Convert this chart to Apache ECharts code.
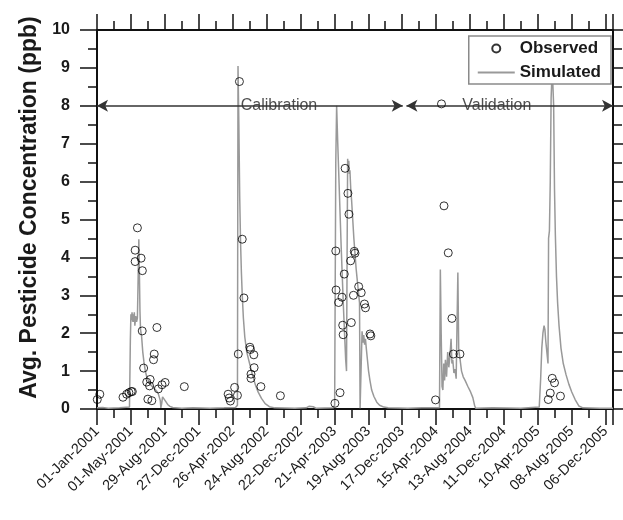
<!DOCTYPE html>
<html>
<head>
<meta charset="utf-8">
<script src="https://cdn.jsdelivr.net/npm/echarts@6/dist/echarts.min.js"></script>
<style>
html,body{margin:0;padding:0;background:#fff;}
#chart{width:623px;height:520px;}
</style>
</head>
<body>
<div id="chart"></div>
<script>
// x values are days counted from 01-Jan-2001
var MONTHS = ['Jan','Feb','Mar','Apr','May','Jun','Jul','Aug','Sep','Oct','Nov','Dec'];
var xMin = 0, xMax = 1826, xStep = 120;
var yMin = 0, yMax = 10, yStep = 1;

var obsDays = [1, 10, 92, 105, 113, 121, 125, 135, 135, 143, 156, 160, 160.5, 165, 176, 180, 186, 188, 194, 200, 202.5, 212, 217, 230, 241, 309,
	464, 468, 472, 487, 497, 500, 504, 514, 520, 541, 543, 545, 545, 555, 556, 580, 649,
	842, 845, 846, 855, 860, 867, 869.5, 871, 875, 878, 888, 891.5, 897.5, 900, 907.5, 910.5, 913, 926, 935, 946.5, 950, 966, 969,
	1198, 1219, 1228, 1243, 1256, 1261, 1284.5,
	1597, 1604, 1611, 1619, 1640];
var obsValues = [0.25, 0.39, 0.31, 0.39, 0.43, 0.46, 0.46, 4.19, 3.89, 4.78, 3.98, 2.06, 3.65, 1.08, 0.71, 0.26, 0.61, 0.78, 0.22, 1.30, 1.45, 2.15, 0.53, 0.64, 0.70, 0.59,
	0.39, 0.29, 0.21, 0.57, 0.36, 1.45, 8.64, 4.48, 2.93, 1.63, 1.57, 0.92, 0.81, 1.43, 1.09, 0.59, 0.35,
	0.15, 4.17, 3.14, 2.81, 0.43, 2.95, 2.21, 1.96, 3.56, 6.35, 5.69, 5.14, 3.91, 2.28, 3.00, 4.16, 4.11, 3.23, 3.07, 2.77, 2.67, 1.98, 1.93,
	0.24, 8.05, 5.36, 4.12, 2.39, 1.45, 1.45,
	0.25, 0.42, 0.81, 0.69, 0.34];

var simDays = [0, 20, 40, 80, 115, 118, 120, 122, 124, 126, 128, 130, 132, 134, 137, 140, 143, 145, 148, 150, 152, 154, 158, 162, 166, 171, 176, 182, 188, 194, 202, 210, 216, 221, 224, 226, 229, 232, 237, 243, 250, 258, 268, 300, 340, 400, 450,
	490, 497, 499, 502, 505, 508, 511, 514, 518, 523, 530, 540, 550, 560, 570, 582, 595, 610, 630, 700, 740, 750, 765, 775,
	836, 841, 845, 848, 852, 856, 860, 864, 868, 872, 876, 880, 883, 885, 887, 889, 891, 893, 895, 898, 901, 905, 909, 913, 917, 921, 925, 929, 931, 936, 938, 941, 944, 947, 950, 953, 957, 961, 966, 972, 980, 990, 1000, 1015, 1030, 1100, 1150,
	1212, 1215, 1218, 1221, 1224, 1227, 1230, 1233, 1237, 1241, 1245, 1249, 1253, 1256, 1259, 1263, 1267, 1271, 1275, 1277, 1280, 1285, 1290, 1296, 1303, 1312, 1322, 1330, 1336, 1340, 1400, 1500,
	1565, 1570, 1574, 1578, 1582, 1585, 1588, 1592, 1596, 1598, 1601, 1604, 1607, 1610, 1613, 1616, 1619, 1622, 1626, 1630, 1635, 1642, 1650, 1660, 1670, 1680, 1692, 1705, 1720, 1780, 1826];
var simValues = [0.03, 0.04, 0.02, 0.03, 0.05, 1.8, 2.5, 2.35, 2.55, 2.3, 2.5, 2.3, 2.55, 2.2, 2.45, 2.3, 2.4, 3.2, 4.48, 3.6, 2.6, 2.1, 1.9, 1.5, 1.25, 1.0, 0.85, 0.75, 0.65, 0.6, 0.55, 0.48, 0.42, 0.3, 0.22, 0.03, 0.15, 0.32, 0.28, 0.2, 0.12, 0.07, 0.04, 0.02, 0.03, 0.02, 0.03,
	0.04, 0.1, 9.05, 7.5, 5.6, 4.4, 3.6, 3.0, 2.4, 1.9, 1.5, 1.2, 0.9, 0.65, 0.45, 0.28, 0.14, 0.06, 0.03, 0.02, 0.03, 0.07, 0.06, 0.02,
	0.03, 0.1, 6.5, 8.0, 7.0, 6.1, 5.2, 4.3, 3.5, 2.7, 2.0, 1.3, 1.0, 4.0, 6.6, 6.3, 6.55, 6.2, 6.3, 5.8, 5.5, 5.0, 4.5, 4.1, 3.7, 3.4, 3.1, 2.8, 0.02, 0.02, 2.05, 1.75, 1.95, 1.7, 1.85, 1.6, 1.3, 1.0, 0.75, 0.5, 0.33, 0.18, 0.1, 0.05, 0.03, 0.02, 0.03,
	0.03, 3.68, 2.0, 0.6, 0.5, 1.2, 0.75, 1.3, 0.85, 1.5, 1.1, 1.4, 1.85, 1.2, 1.3, 0.95, 1.05, 0.8, 0.8, 3.6, 1.55, 1.3, 1.0, 0.85, 0.75, 0.6, 0.45, 0.3, 0.1, 0.02, 0.03, 0.02,
	0.05, 0.8, 1.6, 2.0, 2.2, 2.1, 1.8, 1.5, 1.2, 4.5, 4.7, 6.0, 8.2, 8.8, 8.6, 8.0, 5.8, 4.6, 3.5, 2.8, 2.2, 1.6, 1.2, 0.9, 0.65, 0.45, 0.25, 0.08, 0.03, 0.02, 0.02];

// calibration / validation periods drawn at y = 8
var periodNames = ['Calibration', 'Validation'];
var periodStart = [0, 1095];
var periodEnd = [1082, 1826];
var periodTextDay = [644, 1415];
var periodLevel = 8;

function dayLabel(d)
{
	var t = new Date(Date.UTC(2001, 0, 1) + d * 86400000);
	var dd = ('0' + t.getUTCDate()).slice(-2);
	return dd + '-' + MONTHS[t.getUTCMonth()] + '-' + t.getUTCFullYear();
}

var obsData = [];
for (var i = 0; i < obsDays.length; i++) obsData.push([obsDays[i], obsValues[i]]);
var simData = [];
for (var j = 0; j < simDays.length; j++) simData.push([simDays[j], simValues[j]]);
var periodLines = [];
var periodText = [];
for (var k = 0; k < periodNames.length; k++) {
	periodLines.push([{ coord: [periodStart[k], periodLevel] }, { coord: [periodEnd[k], periodLevel] }]);
	periodText.push({ value: [periodTextDay[k], periodLevel], name: periodNames[k] });
}

var FONT = 'Liberation Sans, Arial, sans-serif';
var AX = '#111';

function xAx(pos)
{
	return {
		type: 'value', position: pos, min: xMin, max: xMax, interval: xStep,
		axisLine: { show: true, onZero: false, lineStyle: { color: AX, width: 2 } },
		axisTick: { show: true, inside: false, length: 16, lineStyle: { color: AX, width: 1.5 } },
		minorTick: { show: true, splitNumber: 2, length: 9, lineStyle: { color: AX, width: 1.5 } },
		splitLine: { show: false },
		minorSplitLine: { show: false },
		axisLabel: {
			show: pos === 'bottom', rotate: 45, margin: 20, fontSize: 14.5, color: '#1a1a1a',
			fontFamily: FONT, showMaxLabel: false, formatter: dayLabel
		}
	};
}

function yAx(pos)
{
	var a = {
		type: 'value', position: pos, min: yMin, max: yMax, interval: yStep,
		axisLine: { show: true, onZero: false, lineStyle: { color: AX, width: 2 } },
		axisTick: { show: true, inside: false, length: 17, lineStyle: { color: AX, width: 1.5 } },
		minorTick: { show: true, splitNumber: 2, length: 9, lineStyle: { color: AX, width: 1.5 } },
		splitLine: { show: false },
		minorSplitLine: { show: false },
		axisLabel: {
			show: pos === 'left', margin: 27, fontSize: 16, fontWeight: 'bold',
			color: '#1a1a1a', fontFamily: FONT
		}
	};
	if (pos === 'left') {
		a.name = 'Avg. Pesticide Concentration (ppb)';
		a.nameLocation = 'middle';
		a.nameGap = 56;
		a.nameTextStyle = { fontSize: 23, fontWeight: 'bold', color: '#1a1a1a', fontFamily: FONT, padding: [0, 0, 0, 24] };
	}
	return a;
}

var option = {
	backgroundColor: '#fff',
	animation: false,
	grid: { left: 97, right: 10, top: 30, bottom: 111, containLabel: false },
	legend: {
		data: [
			{ name: 'Observed', icon: 'circle' },
			{ name: 'Simulated', itemStyle: { opacity: 0 } }
		],
		orient: 'vertical',
		right: 12, top: 36,
		padding: [4, 10, 3, 8],
		itemGap: 7,
		itemWidth: 37, itemHeight: 8,
		backgroundColor: '#fff',
		borderColor: '#8a8a8a', borderWidth: 1.5,
		textStyle: { fontSize: 17, fontWeight: 'bold', color: '#1a1a1a', fontFamily: FONT },
		z: 10
	},
	xAxis: [xAx('bottom'), xAx('top')],
	yAxis: [yAx('left'), yAx('right')],
	series: [
		{
			name: 'periods', type: 'line', data: [], z: 2, silent: true,
			markLine: {
				silent: true, animation: false,
				symbol: ['arrow', 'arrow'], symbolSize: [9, 11],
				lineStyle: { color: '#333', width: 1.5, type: 'solid' },
				label: { show: false },
				data: periodLines
			}
		},
		{
			name: 'periodText', type: 'scatter', data: periodText, z: 3, silent: true,
			symbolSize: 1, itemStyle: { color: 'rgba(0,0,0,0)' },
			label: {
				show: true, position: 'inside', formatter: '{b}',
				fontSize: 16, color: '#222', fontFamily: FONT,
				backgroundColor: '#fff', padding: [0, 1]
			}
		},
		{
			name: 'Simulated', type: 'line', data: simData, z: 4,
			showSymbol: false, symbol: 'none',
			lineStyle: { color: '#999', width: 1.5 },
			itemStyle: { color: '#999' }
		},
		{
			name: 'Observed', type: 'scatter', data: obsData, z: 5,
			symbol: 'circle', symbolSize: 8,
			itemStyle: { color: 'rgba(0,0,0,0)', borderColor: '#000', borderWidth: 1 }
		}
	]
};

var myChart = echarts.init(document.getElementById('chart'));
myChart.setOption(option);
</script>
</body>
</html>
